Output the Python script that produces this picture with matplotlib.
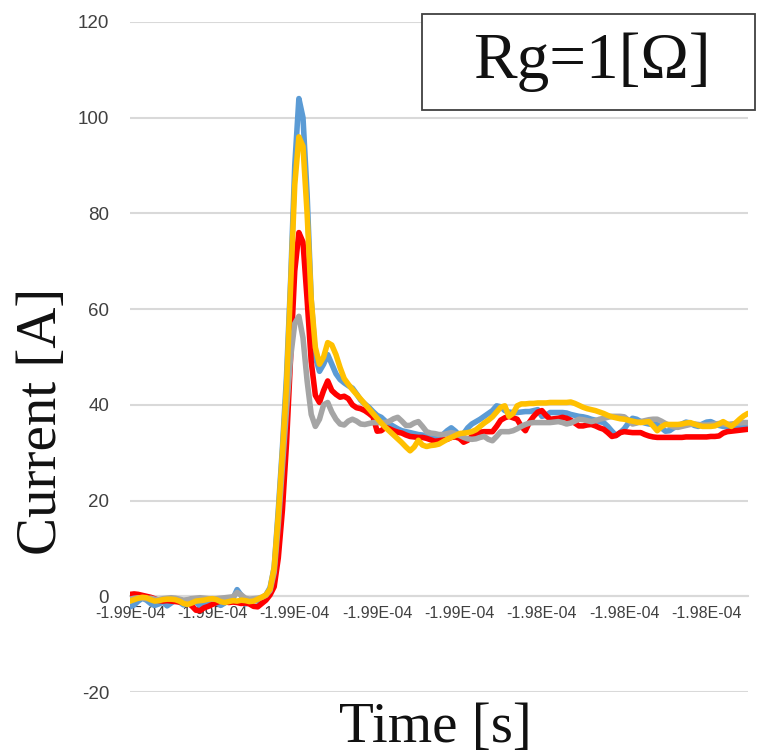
import matplotlib
matplotlib.use("Agg")
import matplotlib.pyplot as plt
from matplotlib.patches import Rectangle

plt.rcParams['axes.unicode_minus'] = False

# sample index 0..150 (10 ns per sample), labels every 20 samples
tick_pos = [0, 20, 40, 60, 80, 100, 120, 140]
tick_labels = ['-1.99E-04', '-1.99E-04', '-1.99E-04', '-1.99E-04',
               '-1.99E-04', '-1.98E-04', '-1.98E-04', '-1.98E-04']
y_ticks = [-20, 0, 20, 40, 60, 80, 100, 120]
y_labels = ['-20', '0', '20', '40', '60', '80', '100', '120']

blue = [
    -2.2, -1.8, -1.0, -0.4, -0.8, -1.5, -1.9, -1.6, -1.2, -2.0,
    -1.4, -0.8, -1.2, -1.8, -1.0, -0.5, -1.2, -2.0, -1.6, -0.9,
    -0.6, -1.3, -1.9, -1.4, -0.7, -0.5, 1.4, 0.2, -1.6, -1.2,
    -0.8, -1.0, -0.5, 0.3, 1.8, 6, 18, 31, 46, 66,
    90, 104, 100, 84, 62, 50, 47, 48.5, 50.5, 48.5,
    46.5, 45.3, 44.6, 44.0, 43.5, 42.3, 41.0, 40.2, 39.5, 38.6,
    37.8, 37.4, 36.6, 36.0, 35.5, 35.0, 34.6, 34.4, 34.2, 34.0,
    33.8, 33.7, 33.5, 33.4, 33.4, 33.6, 33.8, 34.6, 35.2, 34.5,
    33.6, 34.0, 35.2, 36.0, 36.5, 37.0, 37.6, 38.2, 38.8, 39.8,
    39.6, 38.8, 38.5, 38.4, 38.4, 38.5, 38.6, 38.6, 38.8, 39.0,
    37.6, 37.8, 38.4, 38.4, 38.4, 38.4, 38.3, 38.0, 37.8, 37.6,
    37.5, 37.3, 37.0, 36.8, 36.5, 36.3, 35.5, 34.5, 33.6, 34.2,
    35.0, 36.2, 37.2, 37.0, 36.5, 36.2, 36.0, 35.9, 35.9, 35.2,
    34.5, 34.6, 35.2, 35.5, 36.0, 36.4, 36.2, 35.7, 35.5, 36.0,
    36.4, 36.5, 36.1, 35.7, 35.5, 35.4, 35.3, 35.3, 35.5, 35.8,
    36.0,
]

red = [
    0.4, 0.5, 0.4, 0.2, 0.0, -0.2, -0.5, -0.9, -1.0, -0.9,
    -1.0, -1.1, -1.2, -1.3, -1.4, -2.0, -2.9, -3.0, -2.4, -2.1,
    -1.7, -1.3, -1.0, -1.1, -1.3, -1.2, -1.3, -1.5, -1.4, -1.6,
    -2.1, -2.2, -1.5, -0.8, 0.3, 2, 8, 18, 32, 50,
    68, 76, 74, 62, 49, 42, 40.5, 43, 45, 43,
    42.2, 41.6, 41.8, 41.3, 40.0, 39.4, 39.2, 38.8, 38.2, 37.5,
    34.5, 34.6, 35.3, 35.0, 34.6, 34.3, 34.1, 33.7, 33.4, 33.3,
    33.2, 33.2, 33.0, 32.7, 32.4, 32.5, 32.7, 32.8, 33.2, 33.3,
    33.0, 32.2, 32.6, 33.4, 34.0, 34.3, 34.4, 34.4, 34.4, 35.5,
    36.8, 37.3, 37.6, 37.3, 37.0, 35.5, 34.6, 36.4, 37.6, 38.5,
    38.8, 37.8, 37.0, 37.1, 37.2, 37.4, 37.2, 36.8, 36.2, 35.6,
    35.6, 35.8, 35.9, 35.6, 35.2, 34.9, 34.2, 33.4, 33.6, 34.2,
    34.4, 34.3, 34.2, 34.2, 34.2, 33.8, 33.5, 33.3, 33.2, 33.2,
    33.2, 33.2, 33.2, 33.2, 33.2, 33.3, 33.3, 33.3, 33.3, 33.3,
    33.3, 33.4, 33.4, 33.5, 34.1, 34.4, 34.5, 34.6, 34.7, 34.8,
    34.9,
]

gray = [
    -0.6, -0.4, -0.3, -0.4, -0.5, -0.4, -0.6, -0.7, -0.5, -0.4,
    -0.3, -0.4, -0.6, -0.8, -0.7, -0.5, -0.4, -0.3, -0.4, -0.5,
    -0.6, -0.5, -0.4, -0.3, -0.2, -0.1, 0.8, 0.3, -0.4, -0.6,
    -0.5, -0.4, -0.2, 0.2, 1.2, 5, 15, 27, 39, 50,
    57, 58.5, 54, 45, 38, 35.5, 37, 40, 40.5, 38.5,
    37.0, 36.0, 35.8, 36.6, 37.0, 36.6, 36.0, 35.9, 36.1, 36.3,
    36.3, 36.3, 36.3, 36.6, 37.1, 37.4, 36.6, 35.7, 35.7, 36.2,
    36.5, 35.5, 34.4, 34.1, 34.0, 33.8, 33.8, 34.0, 34.2, 34.0,
    33.6, 33.2, 32.9, 32.8, 32.9, 33.2, 33.4, 32.8, 32.5, 33.4,
    34.4, 34.4, 34.4, 34.6, 35.0, 35.5, 35.9, 36.2, 36.3, 36.3,
    36.3, 36.3, 36.3, 36.4, 36.5, 36.3, 36.0, 36.2, 36.6, 37.0,
    36.9, 36.7, 36.5, 36.7, 37.0, 37.2, 37.4, 37.6, 37.6, 37.6,
    37.5, 36.8, 36.0, 36.2, 36.5, 36.7, 36.9, 37.0, 37.0, 36.6,
    36.1, 35.7, 35.4, 35.3, 35.5, 35.7, 35.9, 36.0, 35.9, 35.8,
    35.8, 35.9, 36.0, 36.1, 36.0, 35.9, 36.0, 36.1, 36.2, 36.3,
    36.3,
]

yellow = [
    -1.0, -0.7, -0.4, -0.2, -0.3, -0.7, -1.0, -0.9, -0.7, -0.6,
    -0.6, -0.7, -1.0, -1.5, -1.7, -1.4, -1.0, -0.9, -0.8, -0.6,
    -0.5, -0.7, -1.1, -1.3, -1.1, -0.9, -1.0, -0.8, -0.9, -1.1,
    -1.0, -0.6, -0.2, 0.3, 1.5, 6, 17, 30, 44, 65,
    86, 96, 94, 80, 62, 52, 48.5, 50, 53, 52.5,
    50.5, 47.8, 45.5, 44.3, 43.2, 42.2, 41.2, 40.2, 39.2, 38.2,
    37.2, 36.2, 35.3, 34.5, 33.7, 32.9, 32.1, 31.2, 30.4, 31.2,
    32.6, 31.6, 31.3, 31.5, 31.6, 31.8, 32.3, 32.8, 33.2, 33.6,
    34.0, 34.1, 34.2, 34.4, 34.8, 35.5, 36.2, 36.8, 37.5, 38.5,
    39.5, 39.8, 37.6, 38.2, 39.8, 40.2, 40.2, 40.3, 40.3, 40.4,
    40.4, 40.4, 40.5, 40.5, 40.5, 40.5, 40.5, 40.6, 40.3, 39.9,
    39.5, 39.2, 39.0, 38.8, 38.5, 38.2, 37.8, 37.5, 37.3, 37.1,
    37.0, 36.8, 36.6, 36.4, 36.3, 36.4, 36.5, 35.6, 34.6, 35.4,
    35.9, 35.9, 35.9, 35.9, 36.0, 36.2, 36.3, 36.0, 35.7, 35.5,
    35.5, 35.5, 35.6, 36.0, 36.5, 36.0, 35.5, 36.2, 37.0, 37.7,
    38.2,
]

series = [(blue, '#5B9BD5'), (red, '#FF0000'), (gray, '#A5A5A5'), (yellow, '#FFC000')]

fig = plt.figure(figsize=(7.67, 7.55), dpi=100)
ax = fig.add_axes([0.1695, 0.0834, 0.8055, 0.8875])

for vals, col in series:
    ax.plot(range(len(vals)), vals, color=col, lw=4.0, solid_joinstyle='round',
            solid_capstyle='round', zorder=3)

ax.set_xlim(0, 150)
ax.set_ylim(-20, 120)
ax.set_yticks(y_ticks)
ax.set_yticklabels(y_labels)
ax.set_xticks(tick_pos)
ax.set_xticklabels(tick_labels)
ax.grid(axis='y', color='#D9D9D9', lw=1.5, zorder=0)
for s in ['top', 'right', 'left']:
    ax.spines[s].set_visible(False)
ax.spines['bottom'].set_position(('data', 0))
ax.spines['bottom'].set_color('#D9D9D9')
ax.spines['bottom'].set_linewidth(1.5)
ax.tick_params(axis='both', length=0, colors='#404040')
ax.tick_params(axis='y', pad=15, labelsize=13.5)
ax.tick_params(axis='x', pad=7, labelsize=11.5)
for lab in ax.get_xticklabels() + ax.get_yticklabels():
    lab.set_family(['Liberation Sans Narrow', 'Liberation Sans'])

serif = ['Liberation Serif', 'DejaVu Serif']
fig.text(0.055, 0.442, 'Current [A]', rotation=90, ha='center', va='center',
         fontsize=41, family=serif, color='#111111')
fig.text(0.567, 0.036, 'Time [s]', ha='center', va='center',
         fontsize=41, family=serif, color='#111111')

fig.patches.append(Rectangle((0.550, 0.854), 0.434, 0.1275, transform=fig.transFigure,
                             facecolor='white', edgecolor='#404040', lw=1.3, zorder=5))
fig.text(0.772, 0.917, 'Rg=1[Ω]', ha='center', va='center', fontsize=47,
         family=serif, color='#111111', zorder=6)

fig.savefig('out.png', dpi=100)
